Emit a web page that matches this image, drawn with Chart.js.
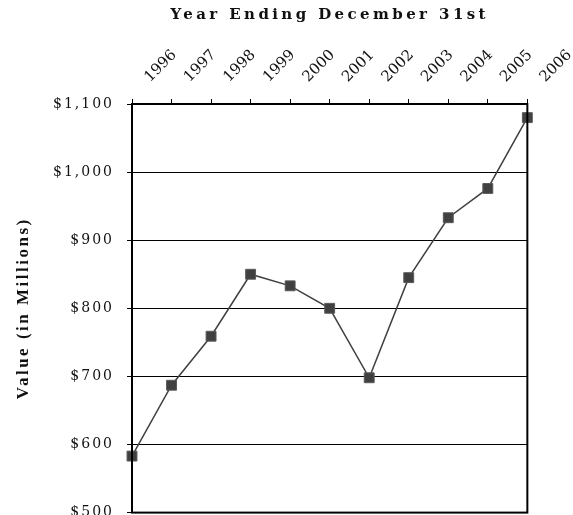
<!DOCTYPE html>
<html>
<head>
<meta charset="utf-8">
<script src="https://cdn.jsdelivr.net/npm/chart.js@4"></script>
<style>
  html, body { margin:0; padding:0; background:#fff; overflow:hidden; height:515px; }
  #chart { display:block; }
</style>
</head>
<body>
<canvas id="chart" width="573" height="534"></canvas>
<script>
const years = ['1996','1997','1998','1999','2000','2001','2002','2003','2004','2005','2006'];
const values = [583, 687, 759, 850, 833, 800, 698, 845, 933, 976, 1080];
const yMin = 500, yMax = 1100, yStep = 100;

const xTitle = 'Year Ending December 31st';
const yTitle = 'Value (in Millions)';

const serif = '"DejaVu Serif", serif';
const TEXT = '#111';

function money(v){ return '$' + v.toLocaleString('en-US'); }

// wide-set text like the Excel original: canvas letterSpacing per piece
function spaced(scale, method, px){
  if(scale['_sp_' + method]) return;
  const orig = scale[method];
  scale[method] = function(...args){
    const old = this.ctx.letterSpacing;
    this.ctx.letterSpacing = px;
    orig.apply(this, args);
    this.ctx.letterSpacing = old;
  };
  scale['_sp_' + method] = true;
}

const spacing = {
  id: 'spacing',
  beforeUpdate(chart){ chart.ctx.letterSpacing = '2px'; },
  beforeDraw(chart){ chart.ctx.letterSpacing = '2px'; },
  afterLayout(chart){
    spaced(chart.scales.x, 'drawTitle', '3.4px');
    spaced(chart.scales.x, 'drawLabels', '0px');
    spaced(chart.scales.y, 'drawTitle', '2.5px');
  }
};

// plot frame
const frame = {
  id: 'frame',
  afterDatasetsDraw(chart){
    const {ctx, chartArea:a} = chart;
    ctx.save();
    ctx.strokeStyle = '#000';
    ctx.lineWidth = 2;
    ctx.strokeRect(a.left, a.top, a.right - a.left, a.bottom - a.top);
    ctx.restore();
  }
};

new Chart(document.getElementById('chart'), {
  type: 'line',
  data: {
    labels: years,
    datasets: [{
      data: values,
      borderColor: '#404040',
      borderWidth: 1.5,
      backgroundColor: '#404040',
      pointStyle: 'rect',
      pointRadius: 7,
      pointBackgroundColor: '#404040',
      pointBorderColor: '#5a5a5a',
      pointBorderWidth: 1,
      tension: 0,
      clip: false
    }]
  },
  options: {
    responsive: false,
    animation: false,
    layout: { padding: { left: 0, top: 0, right: 44, bottom: 4 } },
    plugins: { legend: { display:false }, tooltip: { enabled:false } },
    scales: {
      x: {
        position: 'top',
        offset: false,
        grid: { drawOnChartArea:false, drawTicks:true, tickLength:5, color:'#000', lineWidth:1 },
        border: { display:true, color:'#000', width:2 },
        ticks: { autoSkip:false, maxRotation:45, minRotation:45, padding:13, labelOffset:28, color:TEXT,
                 font:{ family:serif, size:15 } },
        title: { display:true, text:xTitle, color:TEXT, padding:{ top:6, bottom:0 },
                 font:{ family:serif, size:15, weight:'bold' } },
        afterFit(s){ s.height = 104; }
      },
      y: {
        min: yMin, max: yMax,
        grid: { color:'#000', lineWidth:1, tickLength:5 },
        border: { display:true, color:'#000', width:2 },
        ticks: { stepSize:yStep, padding:13, color:TEXT, callback:money,
                 font:{ family:serif, size:14 } },
        title: { display:true, text:yTitle, color:TEXT, padding:{ top:13, bottom:0 },
                 font:{ family:'"Liberation Serif", serif', size:17, weight:'bold' } },
        afterFit(s){ s.width = 132; }
      }
    }
  },
  plugins: [spacing, frame]
});
</script>
</body>
</html>
